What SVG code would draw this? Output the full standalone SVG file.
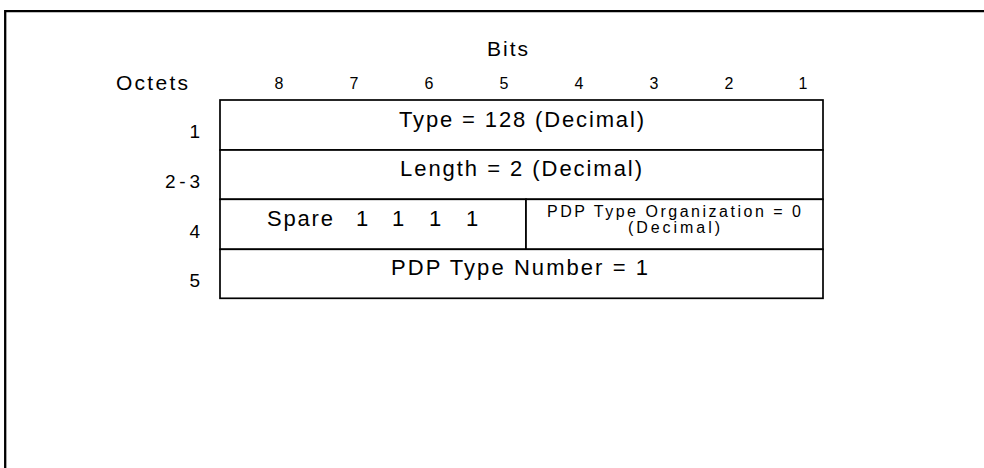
<svg xmlns="http://www.w3.org/2000/svg" width="984" height="468" viewBox="0 0 984 468">
<style>
text{font-family:"Liberation Sans",Arial,sans-serif;fill:#000}
.cell{fill:#fff;stroke:#000;stroke-width:1.7}
.big{font-size:22px}
.hdr{font-size:21px}
.bit{font-size:16px;text-anchor:middle}
.oct{font-size:19px;text-anchor:end}
.small{font-size:16px}
.mid{text-anchor:middle}
</style>
<rect width="984" height="468" fill="#fff"/>
<path id="frame" d="M5.2,468 V11.2 H984" fill="none" stroke="#000" stroke-width="2.3"/>
<g id="header">
<text class="hdr" x="487" y="56" textLength="41" lengthAdjust="spacing">Bits</text>
<text class="hdr" x="116" y="90" textLength="72" lengthAdjust="spacing">Octets</text>
<text class="bit" x="279" y="89">8</text>
<text class="bit" x="354" y="89">7</text>
<text class="bit" x="429" y="89">6</text>
<text class="bit" x="504" y="89">5</text>
<text class="bit" x="579" y="89">4</text>
<text class="bit" x="654" y="89">3</text>
<text class="bit" x="729" y="89">2</text>
<text class="bit" x="803" y="89">1</text>
</g>
<g id="octet-labels">
<text class="oct" x="200" y="138">1</text>
<text class="oct" x="200" y="188" textLength="35" lengthAdjust="spacing">2-3</text>
<text class="oct" x="200" y="238">4</text>
<text class="oct" x="200" y="287">5</text>
</g>
<g id="row1">
<rect class="cell" x="220" y="100" width="603" height="50"/>
<text class="big" x="399" y="127" textLength="245" lengthAdjust="spacing">Type = 128 (Decimal)</text>
</g>
<g id="row2">
<rect class="cell" x="220" y="150" width="603" height="49.3"/>
<text class="big" x="400" y="176" textLength="242" lengthAdjust="spacing">Length = 2 (Decimal)</text>
</g>
<g id="row4-spare">
<rect class="cell" x="220" y="199.3" width="306" height="50"/>
<text class="big" x="267" y="226" textLength="66" lengthAdjust="spacing">Spare</text>
<text class="big mid" x="362" y="226">1</text>
<text class="big mid" x="398" y="226">1</text>
<text class="big mid" x="435" y="226">1</text>
<text class="big mid" x="472" y="226">1</text>
</g>
<g id="row4-org">
<rect class="cell" x="526" y="199.3" width="297" height="50"/>
<text class="small" x="547" y="217" textLength="254" lengthAdjust="spacing">PDP Type Organization = 0</text>
<text class="small" x="628" y="233" textLength="92" lengthAdjust="spacing">(Decimal)</text>
</g>
<g id="row5">
<rect class="cell" x="220" y="249.3" width="603" height="49"/>
<text class="big" x="391" y="275" textLength="257" lengthAdjust="spacing">PDP Type Number = 1</text>
</g>
</svg>
